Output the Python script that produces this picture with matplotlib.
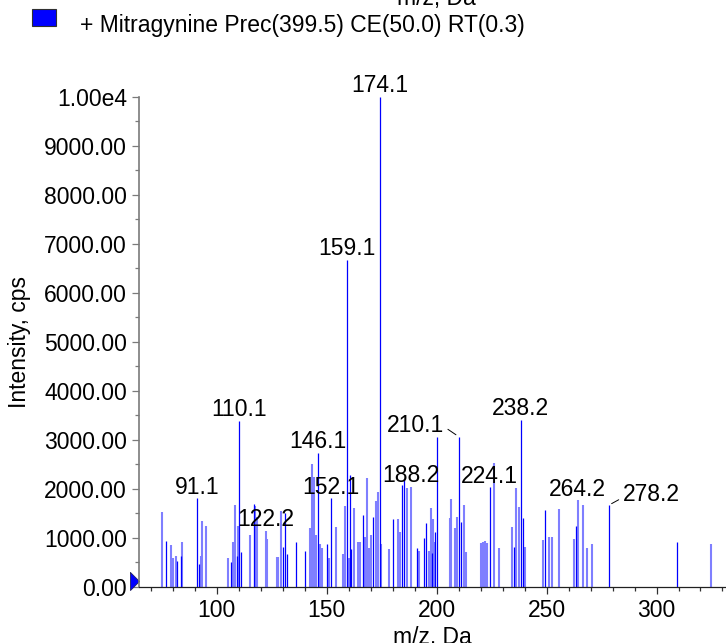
import numpy as np
import matplotlib
matplotlib.use("Agg")
from matplotlib import pyplot as plt
from matplotlib.patches import Rectangle
from matplotlib.ticker import MultipleLocator, FuncFormatter
from matplotlib.transforms import ScaledTranslation

plt.rcParams["font.family"] = ["Liberation Sans", "DejaVu Sans"]

# strong peaks (drawn dark)
mz_dark = [77.0, 82.1, 83.8, 91.1, 92.1, 106.7, 109.2, 110.1, 111.0, 117.0,
           130.0, 131.2, 132.0, 136.2, 140.1, 146.1, 150.3, 152.1, 159.1, 160.4,
           161.2, 166.4, 171.2, 174.1, 180.1, 184.2, 185.3, 191.2, 194.2, 195.2,
           197.9, 199.4, 200.1, 210.1, 211.2, 224.1, 235.3, 238.2, 239.4, 249.4,
           263.6, 278.2, 309.4]
int_dark = [939, 522, 626, 1803, 469, 504, 633, 3388, 714, 1688,
            816, 1510, 661, 906, 722, 2728, 871, 1803, 6667, 2273,
            769, 1457, 1429, 10000, 1374, 2082, 2191, 783, 993, 1293,
            681, 1122, 3061, 3061, 1320, 2028, 804, 3401, 1395, 1571,
            1245, 1661, 918]

# other peaks (drawn light)
mz_light = [75.0, 79.0, 80.0, 81.7, 84.2, 92.7, 93.3, 95.1, 105.1, 107.2,
            108.2, 109.7, 115.0, 117.5, 118.2, 122.2, 123.0, 127.3, 127.9, 129.1,
            142.2, 143.2, 144.1, 145.1, 147.1, 148.0, 151.2, 154.3, 157.4, 158.2,
            160.0, 162.4, 164.4, 165.3, 167.3, 168.3, 169.2, 170.3, 172.3, 173.3,
            174.7, 178.2, 182.3, 183.2, 186.4, 188.2, 192.1, 196.4, 197.3, 198.3,
            198.9, 205.9, 206.6, 208.5, 209.2, 212.3, 213.3, 220.1, 221.0, 222.0,
            222.9, 226.0, 228.2, 234.2, 236.2, 237.3, 240.3, 248.5, 251.2, 252.3,
            255.6, 262.4, 264.2, 266.5, 268.3, 270.6, 324.6]
int_light = [1515, 855, 580, 620, 920, 620, 1340, 1232, 579, 915,
             1661, 1245, 1055, 1653, 1422, 1137, 973, 600, 600, 1545,
             1204, 2504, 2245, 1061, 871, 783, 592, 1224, 673, 1646,
             592, 1606, 912, 912, 1007, 2218, 796, 1048, 1742, 1926,
             871, 769, 1374, 1116, 2007, 2041, 735, 735, 1606, 1374,
             906, 1408, 1790, 1198, 1416, 1667, 702, 892, 906, 926,
             892, 2531, 783, 1218, 2007, 1633, 804, 947, 1014, 1014,
             1592, 973, 1763, 1661, 783, 865, 865]

labelled = [91.1, 110.1, 122.2, 146.1, 152.1, 159.1, 174.1, 188.2,
            210.1, 224.1, 238.2, 264.2, 278.2]

legend_text = "+ Mitragynine Prec(399.5) CE(50.0) RT(0.3)"

W, H = 726, 643
FS = 16.5
fig = plt.figure(figsize=(W / 100, H / 100), dpi=100)
ax = fig.add_axes([139.3 / W, 1 - 586.7 / H, (W - 139.3) / W, 490 / H])

ax.vlines(mz_light, 0, int_light, color="#7f7fff", lw=1.5, clip_on=False)
ax.vlines(mz_dark, 0, int_dark, color="#0000ff", lw=0.9, clip_on=False)

ax.set_xlim(64.8, 331.6)
ax.set_ylim(0, 10000)

ax.xaxis.set_major_locator(MultipleLocator(50))
ax.xaxis.set_minor_locator(MultipleLocator(10))
ax.yaxis.set_major_locator(MultipleLocator(1000))
ax.yaxis.set_minor_locator(MultipleLocator(500))


def yfmt(v, pos):
    if v >= 10000:
        return "1.00e4"
    return "%.2f" % v


ax.yaxis.set_major_formatter(FuncFormatter(yfmt))

for s in ("top", "right"):
    ax.spines[s].set_visible(False)
ax.spines["left"].set_color("#7a7a7a")
ax.spines["left"].set_linewidth(1.2)
ax.spines["bottom"].set_color("#202020")
ax.spines["bottom"].set_linewidth(0.9)

ax.tick_params(axis="both", which="major", length=5, width=0.9, labelsize=FS, pad=4)
ax.tick_params(axis="both", which="minor", length=3, width=0.9)
ax.tick_params(axis="y", which="both", colors="#7a7a7a", labelcolor="black")
ax.tick_params(axis="x", which="both", colors="#303030", labelcolor="black")

ax.set_xlabel("m/z, Da", fontsize=FS, labelpad=3)
ax.set_ylabel("Intensity, cps", fontsize=FS, labelpad=9)

# peak labels
all_mz = np.array(mz_dark + mz_light)
all_int = np.array(int_dark + int_light)
shift = {210.1: -31.3, 278.2: 30.7}
for m in labelled:
    i = np.argmin(np.abs(all_mz - m))
    dx = shift.get(m, 0)
    if dx == 0:
        ax.annotate("%.1f" % m, (all_mz[i], all_int[i]), xytext=(0, 3.4),
                    textcoords="offset points", ha="center", va="baseline",
                    fontsize=FS, annotation_clip=False)
    else:
        ax.annotate("%.1f" % m, (all_mz[i], all_int[i]), xytext=(dx, 3.4),
                    textcoords="offset points", ha="center", va="baseline",
                    fontsize=FS, annotation_clip=False,
                    arrowprops=dict(arrowstyle="-", color="black", lw=0.7,
                                    shrinkA=1, shrinkB=2.5,
                                    relpos=(1, 0.45) if dx < 0 else (0, 0.35)))

# blue marker at origin
tri = ScaledTranslation(-9 / 100, 6 / 100, fig.dpi_scale_trans)
ax.plot([0], [0], marker=[(0, 1), (1, 0), (0, -1), (0, 1)], markersize=13,
        color="#0000ff", mec="#202060", mew=0.6,
        transform=ax.transAxes + tri, clip_on=False)

# legend header
fig.add_artist(Rectangle((32 / W, 1 - 25.7 / H), 24 / W, 16.4 / H,
                         transform=fig.transFigure, facecolor="#0000ff",
                         edgecolor="#303030", lw=0.8))
fig.text(80 / W, 1 - 32 / H, legend_text, fontsize=FS, va="baseline")
fig.text(436 / W, 1 - 5 / H, "m/z, Da", fontsize=FS, ha="center", va="baseline")

fig.savefig("out.png", dpi=100)
